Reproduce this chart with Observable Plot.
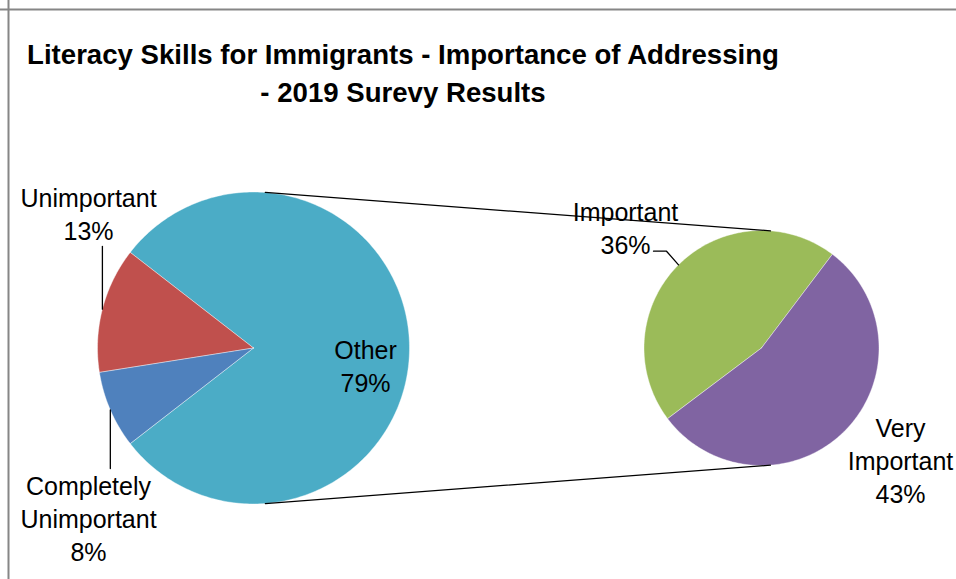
<!DOCTYPE html>
<html><head><meta charset="utf-8">
<script src="https://cdn.jsdelivr.net/npm/d3@7"></script>
<script src="https://cdn.jsdelivr.net/npm/@observablehq/plot@0.6"></script>
<style>html,body{margin:0;padding:0;background:#fff}</style>
</head><body><div id="chart"></div>
<script>
// ---- data ----
const categories = ["Completely Unimportant", "Unimportant", "Important", "Very Important"];
const values = [8, 13, 36, 43];
const secondaryCategories = ["Important", "Very Important"];
const otherName = "Other";
const titleLines = ["Literacy Skills for Immigrants - Importance of Addressing", "- 2019 Surevy Results"];

// ---- styles / layout ----
const colors = {
  "Completely Unimportant": "#4F81BD",
  "Unimportant": "#C0504D",
  "Other": "#4BACC6",
  "Important": "#9BBB59",
  "Very Important": "#8064A2"
};
const W = 956, H = 579;
const mainPie = {cx: 253, cy: 347.5, r: 156};
const secPie = {cx: 761, cy: 347.5, r: 117.5, start: 52.9};
const labelLayout = {
  "Unimportant": {x: 88, y: 239, lines: ["Unimportant"], leaderTo: [[null, 246]]},
  "Completely Unimportant": {x: 88, y: 560, lines: ["Completely", "Unimportant"], leaderTo: [[null, 468]]},
  "Other": {x: 365, y: 391, lines: ["Other"]},
  "Important": {x: 625, y: 253, lines: ["Important"], leaderTo: [[666, 250.7], [653, 250.7]]},
  "Very Important": {x: 900, y: 502, lines: ["Very", "Important"]}
};
const titleLayout = {x: 402.5, y0: 63.5, dy: 38, size: 27.6};
const labelFont = 25, labelLineHeight = 1.31;

// ---- geometry from data ----
const total = d3.sum(values);
const valueOf = Object.fromEntries(categories.map((c, i) => [c, values[i]]));
const otherValue = d3.sum(secondaryCategories, c => valueOf[c]);
const mainCats = [otherName, ...categories.filter(c => !secondaryCategories.includes(c)).reverse()];
const mainVals = mainCats.map(c => c === otherName ? otherValue : valueOf[c]);

const rad = a => a * Math.PI / 180;
const pt = (pie, a, r = pie.r) => ({x: pie.cx + r * Math.cos(rad(a)), y: pie.cy - r * Math.sin(rad(a))});

function slices(pie, cats, vals, start) {
  const sum = d3.sum(vals);
  let a = start;
  return cats.map((c, i) => {
    const span = vals[i] / sum * 360;
    const s = {name: c, a0: a, a1: a + span, mid: a + span / 2, value: vals[i]};
    a += span;
    return s;
  });
}
const mainSlices = slices(mainPie, mainCats, mainVals, -otherValue / total * 180);
const secSlices = slices(secPie, secondaryCategories, secondaryCategories.map(c => valueOf[c]), secPie.start);

function polygon(pie, s) {
  const n = Math.ceil(Math.abs(s.a1 - s.a0)) + 1;
  const pts = [{x: pie.cx, y: pie.cy, name: s.name}];
  for (let k = 0; k <= n; k++) {
    const a = s.a0 + (s.a1 - s.a0) * k / n;
    pts.push({...pt(pie, a), name: s.name});
  }
  pts.push({x: pie.cx, y: pie.cy, name: s.name});
  return pts;
}
const slicePts = [
  ...mainSlices.flatMap(s => polygon(mainPie, s)),
  ...secSlices.flatMap(s => polygon(secPie, s))
];

// connector lines: outer tangents between the two circles
const alpha = Math.acos((mainPie.r - secPie.r) / (secPie.cx - mainPie.cx)) * 180 / Math.PI;
const connectors = [
  {id: "top", ...pt(mainPie, alpha)}, {id: "top", ...pt(secPie, alpha)},
  {id: "bottom", ...pt(mainPie, -alpha)}, {id: "bottom", ...pt(secPie, -alpha)}
];

// labels and leader lines
const allSlices = [...mainSlices.map(s => ({...s, pie: mainPie})), ...secSlices.map(s => ({...s, pie: secPie}))];
const labels = allSlices.map(s => {
  const L = labelLayout[s.name];
  return {text: [...L.lines, `${Math.round(s.value / total * 100)}%`].join("\n"), x: L.x, y: L.y};
});
const leaders = allSlices.filter(s => labelLayout[s.name].leaderTo).flatMap(s => {
  const p = pt(s.pie, s.mid);
  return [{id: s.name, ...p}, ...labelLayout[s.name].leaderTo.map(([x, y]) => ({id: s.name, x: x ?? p.x, y}))];
});
const titleData = titleLines.map((t, i) => ({t, x: titleLayout.x, y: titleLayout.y0 + i * titleLayout.dy}));

const chart = Plot.plot({
  width: W, height: H, margin: 0,
  style: {fontFamily: "'Liberation Sans', Arial, sans-serif", background: "#fff", overflow: "visible"},
  x: {domain: [0, W], range: [0, W], axis: null},
  y: {domain: [0, H], range: [0, H], axis: null},
  color: {domain: Object.keys(colors), range: Object.values(colors)},
  marks: [
    Plot.ruleX([8], {stroke: "#868686", strokeWidth: 2}),
    Plot.ruleY([9], {stroke: "#868686", strokeWidth: 2}),
    Plot.line(slicePts, {x: "x", y: "y", z: "name", fill: "name", stroke: "#fff", strokeWidth: 0.4, curve: "linear"}),
    Plot.text(labels, {x: "x", y: "y", text: "text", fontSize: labelFont, lineHeight: labelLineHeight, lineAnchor: "bottom", textAnchor: "middle", fill: "#000"}),
    Plot.line(leaders, {x: "x", y: "y", z: "id", stroke: "#000", strokeWidth: 1.3}),
    Plot.line(connectors, {x: "x", y: "y", z: "id", stroke: "#000", strokeWidth: 1.3}),
    Plot.text(titleData, {x: "x", y: "y", text: "t", fontSize: titleLayout.size, fontWeight: "bold", lineAnchor: "bottom", textAnchor: "middle", fill: "#000"})
  ]
});
document.getElementById("chart").append(chart);
</script>
</body></html>
